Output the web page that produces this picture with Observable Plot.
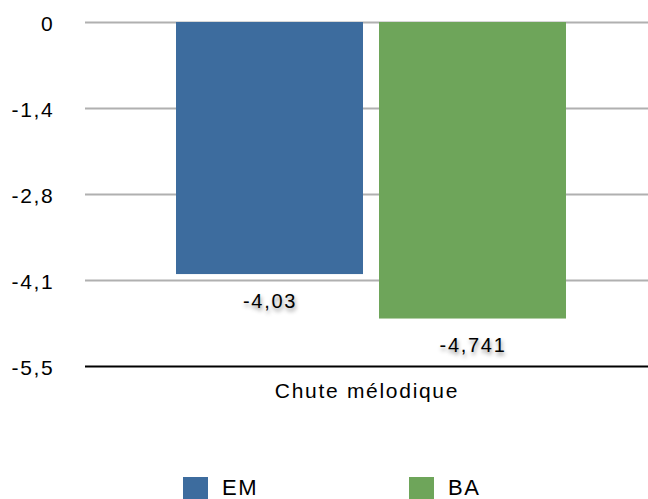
<!DOCTYPE html>
<html><head><meta charset="utf-8">
<script src="https://cdn.jsdelivr.net/npm/d3@7"></script>
<script src="https://cdn.jsdelivr.net/npm/@observablehq/plot@0.6"></script>
<style>
body{margin:0;background:#fff;font-family:"Liberation Sans",Arial,Helvetica,sans-serif;}
#chart svg{display:block;}
#legend{position:relative;height:33px;}
.item{position:absolute;top:11px;display:flex;align-items:center;font-size:22px;line-height:22px;letter-spacing:1.5px;color:#000;}
.sw{width:25px;height:22px;margin-right:14px;}
</style></head>
<body><div id="chart"></div><div id="legend"></div>
<script>
const category = "Chute mélodique";
const series = ["EM", "BA"];
const values = [-4.03, -4.741];
const valueLabels = ["-4,03", "-4,741"];
const colors = ["#3d6c9e", "#6ea55a"];
const yTicks = [0, -1.375, -2.75, -4.125, -5.5];
const yTickLabels = ["0", "-1,4", "-2,8", "-4,1", "-5,5"];

const data = series.map((s, i) => ({category, series: s, value: values[i], label: valueLabels[i]}));

const chart = Plot.plot({
  width: 648, height: 466,
  marginLeft: 85, marginRight: 0, marginTop: 22, marginBottom: 100,
  style: {fontFamily: '"Liberation Sans", Arial, sans-serif', fontSize: "21px", color: "#000", letterSpacing: "1.7px"},
  y: {domain: [-5.5, 0]},
  x: {domain: series, paddingInner: 0.08, paddingOuter: 0.426, align: 0.526},
  fx: {domain: [category], padding: 0},
  color: {domain: series, range: colors},
  marks: [
    Plot.ruleY(yTicks.slice(0, 4), {stroke: "#b0b0b0", strokeWidth: 2}),
    Plot.barY(data, {fx: "category", x: "series", y1: 0, y2: "value", fill: "series"}),
    Plot.ruleY([yTicks[4]], {stroke: "#000", strokeWidth: 2}),
    Plot.text(data, {fx: "category", x: "series", y: "value", text: "label", dy: 27, fontSize: 20, fill: "#000"}),
    Plot.axisY(yTicks, {tickSize: 0, tickPadding: 31, dy: 2, tickFormat: (d, i) => yTickLabels[i], fontSize: 21, label: null}),
    Plot.axisFx({anchor: "bottom", tickSize: 0, tickPadding: 17, fontSize: 21, label: null}),
    Plot.axisX({ticks: [], label: null, tickSize: 0})
  ]
});
document.getElementById("chart").append(chart);
d3.select(chart).selectAll("g[aria-label='text'] text").style("text-shadow", "1px 3px 4px rgba(0,0,0,0.45)");

const legendX = [183, 409];
const leg = document.getElementById("legend");
series.forEach((s, i) => {
  const d = document.createElement("div");
  d.className = "item";
  d.style.left = legendX[i] + "px";
  d.innerHTML = `<div class="sw" style="background:${colors[i]}"></div><span>${s}</span>`;
  leg.append(d);
});
</script></body></html>
